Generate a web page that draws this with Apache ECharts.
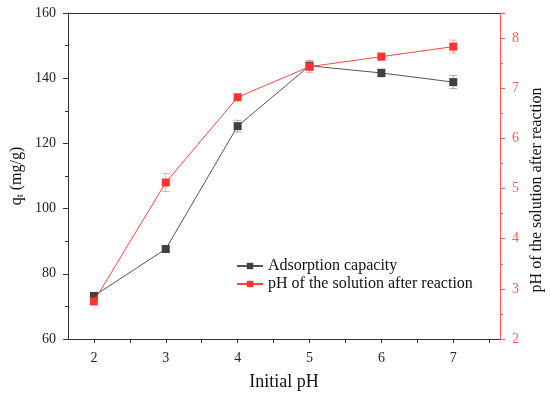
<!DOCTYPE html>
<html><head><meta charset="utf-8">
<script src="https://cdn.jsdelivr.net/npm/echarts@6/dist/echarts.min.js"></script>
<style>html,body{margin:0;padding:0;background:#fff}#c{width:550px;height:397px}</style>
</head><body><div id="c"></div>
<script>
const initialPH = [2, 3, 4, 5, 6, 7];
const adsorption = [73.2, 87.6, 125.3, 143.8, 141.6, 138.8];
const adsorptionErr = [1.0, 0.8, 1.8, 1.5, 1.2, 2.0];
const phAfter = [2.75, 5.12, 6.82, 7.43, 7.63, 7.83];
const phAfterErr = [0.06, 0.18, 0.05, 0.12, 0.07, 0.13];
const xTicks = [2, 2.5, 3, 3.5, 4, 4.5, 5, 5.5, 6, 6.5, 7, 7.5];
const xLabels = [2, 3, 4, 5, 6, 7];

const FONT = '"Liberation Serif", "Times New Roman", serif';
const BLACK = '#404040';
const RED = '#ff3333';
const AXRED = '#ff5c5c';

function errSeries(vals, errs, yIdx, color) {
  return {
    type: 'custom', xAxisIndex: 0, yAxisIndex: yIdx, silent: true, z: 1,
    data: initialPH.map((x, i) => [x, vals[i] - errs[i], vals[i] + errs[i]]),
    renderItem: function (params, api) {
      const lo = api.coord([api.value(0), api.value(1)]);
      const hi = api.coord([api.value(0), api.value(2)]);
      const w = 4;
      const st = { stroke: color, lineWidth: 1, opacity: 0.45 };
      return { type: 'group', children: [
        { type: 'line', shape: { x1: lo[0], y1: lo[1], x2: hi[0], y2: hi[1] }, style: st },
        { type: 'line', shape: { x1: lo[0] - w, y1: lo[1], x2: lo[0] + w, y2: lo[1] }, style: st },
        { type: 'line', shape: { x1: hi[0] - w, y1: hi[1], x2: hi[0] + w, y2: hi[1] }, style: st }
      ]};
    }
  };
}

const chart = echarts.init(document.getElementById('c'));
chart.setOption({
  animation: false,
  textStyle: { fontFamily: FONT },
  grid: { left: 68, right: 50, top: 13, bottom: 58 },
  legend: {
    orient: 'vertical', left: 231, top: 253, itemGap: 2,
    itemWidth: 26, itemHeight: 8,
    textStyle: { fontFamily: FONT, fontSize: 16, color: '#111', padding: [0, 0, 0, 0] },
    data: ['Adsorption capacity', 'pH of the solution after reaction']
  },
  graphic: [
    { type: 'text', x: 17, y: 176, rotation: Math.PI / 2,
      style: { text: '{q|q}{t|t}{q| (mg/g)}', align: 'center', verticalAlign: 'middle',
        rich: {
          q: { fontFamily: FONT, fontSize: 16, fill: '#111' },
          t: { fontFamily: FONT, fontSize: 11, fill: '#111', verticalAlign: 'bottom', padding: [7, 0, 0, 0] }
        } } },
    { type: 'text', x: 537, y: 190, rotation: Math.PI / 2,
      style: { text: 'pH of the solution after reaction', align: 'center', verticalAlign: 'middle',
        fontFamily: FONT, fontSize: 16, fill: '#111' } }
  ],
  xAxis: [{
    type: 'value', min: 1.64, max: 7.65, position: 'bottom',
    name: 'Initial pH', nameLocation: 'middle', nameGap: 34,
    nameTextStyle: { fontFamily: FONT, fontSize: 18, color: '#111' },
    axisLine: { show: true, onZero: false, lineStyle: { color: '#333', width: 1 } },
    axisTick: { show: true, customValues: xTicks, length: 4, lineStyle: { color: '#333' } },
    axisLabel: { customValues: xLabels, fontFamily: FONT, fontSize: 14, color: '#222', margin: 12 },
    splitLine: { show: false }
  }, {
    type: 'value', min: 1.64, max: 7.65, position: 'top',
    axisLine: { show: true, onZero: false, lineStyle: { color: '#333', width: 1 } },
    axisTick: { show: false }, axisLabel: { show: false }, splitLine: { show: false }
  }],
  yAxis: [{
    type: 'value', min: 60, max: 160, interval: 20, position: 'left',
    axisLine: { show: true, onZero: false, lineStyle: { color: '#333', width: 1 } },
    axisTick: { show: true, length: 5, lineStyle: { color: '#333' } },
    minorTick: { show: true, splitNumber: 2, length: 3, lineStyle: { color: '#333' } },
    axisLabel: { fontFamily: FONT, fontSize: 14, color: '#222', margin: 12 },
    splitLine: { show: false }
  }, {
    type: 'value', min: 2, max: 8.5, interval: 1, position: 'right',
    axisLine: { show: true, onZero: false, lineStyle: { color: AXRED, width: 1 } },
    axisTick: { show: true, length: 5, lineStyle: { color: AXRED } },
    minorTick: { show: true, splitNumber: 2, length: 3, lineStyle: { color: AXRED } },
    axisLabel: { fontFamily: FONT, fontSize: 14, color: AXRED, margin: 12, showMaxLabel: false },
    splitLine: { show: false }
  }],
  series: [
    errSeries(adsorption, adsorptionErr, 0, '#555'),
    errSeries(phAfter, phAfterErr, 1, '#ff4444'),
    {
      name: 'Adsorption capacity', type: 'line', yAxisIndex: 0, z: 3,
      data: initialPH.map((x, i) => [x, adsorption[i]]),
      symbol: 'rect', symbolSize: 8,
      itemStyle: { color: BLACK },
      lineStyle: { color: '#555', width: 1 }
    },
    {
      name: 'pH of the solution after reaction', type: 'line', yAxisIndex: 1, z: 4,
      data: initialPH.map((x, i) => [x, phAfter[i]]),
      symbol: 'rect', symbolSize: 8,
      itemStyle: { color: RED },
      lineStyle: { color: '#ff4444', width: 1 }
    }
  ]
});
</script></body></html>
